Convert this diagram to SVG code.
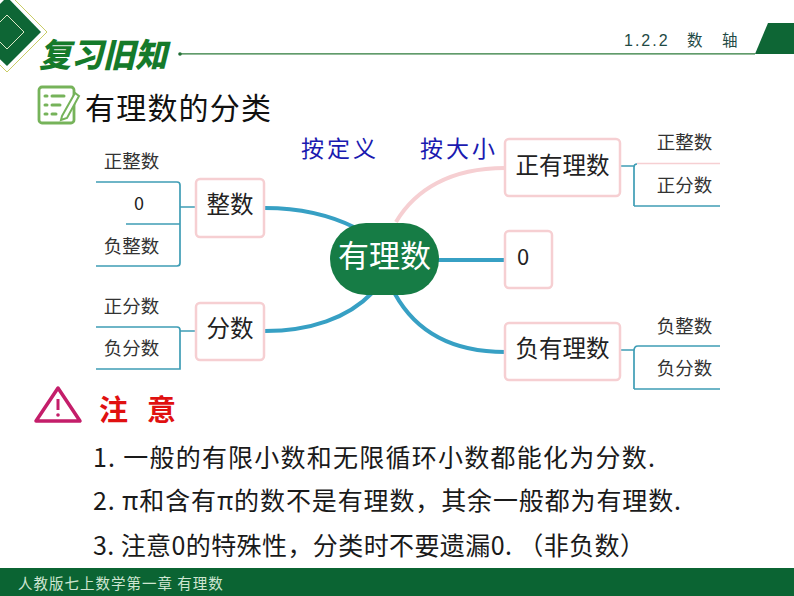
<svg xmlns="http://www.w3.org/2000/svg" width="794" height="596" viewBox="0 0 794 596">
<style>
text{font-family:"Noto Sans CJK SC","Liberation Sans",sans-serif;fill:#222}
.b{fill:#fff;stroke:#f6cfd2;stroke-width:2.5}
.th{fill:none;stroke:#37a0c4;stroke-width:4}
.tn{fill:none;stroke:#3f9db5;stroke-width:1.7}
.s{font-size:18.5px;text-anchor:middle;fill:#333}
.m{font-size:23.500px;text-anchor:middle}
.n{font-size:25px;fill:#1a1a1a}
.k{font-family:"Noto Sans CJK SC",serif;font-size:23px;fill:#1a1ab0;letter-spacing:3px}
</style>
<rect width="794" height="596" fill="#fff"/>
<g id="header">
<polygon points="47,32 7,-8 -33,32 7,72" fill="#fff" stroke="#c9cc66" stroke-width="1"/>
<polygon points="41,32 7,-3 -28,32 7,66" fill="#0e6635"/>
<polygon points="24,32 7,15 -10,32 7,49" fill="none" stroke="#dfe9c8" stroke-width="1"/>
<text x="39" y="67" font-size="33" font-weight="900" font-style="italic" textLength="128" lengthAdjust="spacingAndGlyphs" style="fill:#157a2a">复习旧知</text>
<circle cx="180" cy="54" r="1.800" fill="#1d6b34"/>
<line x1="180" y1="53.800" x2="755" y2="53.800" stroke="#2c7a3a" stroke-width="1.300"/>
<polygon points="755,54 768,23 794,23 794,54" fill="#0e6635"/>
<text x="624" y="46" font-size="16" style="fill:#1f4a45;letter-spacing:2px;font-family:'Liberation Sans',sans-serif">1.2.2</text>
<text x="687" y="46" font-size="15.500" style="fill:#1f4a45">数</text>
<text x="722" y="46" font-size="15.500" style="fill:#1f4a45">轴</text>
</g>
<g id="title">
<rect x="39" y="87" width="35" height="36" rx="3" fill="none" stroke="#76b35a" stroke-width="2.800"/>
<g stroke="#76b35a" stroke-width="3" stroke-linecap="round"><line x1="45" y1="96" x2="47" y2="96"/><line x1="52" y1="96" x2="64" y2="96"/><line x1="45" y1="105" x2="47" y2="105"/><line x1="52" y1="105" x2="60" y2="105"/><line x1="45" y1="114" x2="47" y2="114"/><line x1="52" y1="114" x2="56" y2="114"/></g>
<polygon points="62,116 75,93 79,96 67,118 61,120" fill="#fff" stroke="#76b35a" stroke-width="2"/>
<text x="85" y="119" font-size="30" style="fill:#111;letter-spacing:1.200px">有理数的分类</text>
</g>
<text x="301" y="157" class="k">按定义</text>
<text x="420" y="157" class="k">按大小</text>
<g id="connectors">
<path class="th" d="M265,208C300,208 330,215 356,228"/>
<path class="th" d="M265,331C310,331 348,318 372,293"/>
<path d="M396,222C415,190 450,168 505,168" fill="none" stroke="#f6cfd2" stroke-width="4"/>
<path class="th" d="M438,260H505"/>
<path class="th" d="M395,294C415,330 450,352 505,352"/>
<path class="tn" d="M96,182H177Q180,182 180,185V263Q180,266 177,266H96M126,224H180M180,207H196"/>
<path class="tn" d="M96,327H177Q180,327 180,330V369H96M180,331H196"/>
<path class="tn" d="M620,166H634M634,206V167Q634,164 637,164"/>
<path d="M637,163.500H720" stroke="#f6cfd2" stroke-width="1.700" fill="none"/>
<path class="tn" d="M634,206H720"/>
<path class="tn" d="M620,350H634M634,389V351Q634,346 638,346H720M634,389H720"/>
</g>
<g id="n-root"><rect x="330" y="223" width="109" height="72" rx="36" fill="#167c45"/><text x="384.500" y="267" font-size="31" text-anchor="middle" style="fill:#fff">有理数</text></g>
<g id="n-zhengshu"><rect x="196" y="179" width="68" height="58" rx="4" class="b"/><text x="230" y="213" class="m">整数</text></g>
<g id="n-fenshu"><rect x="196" y="303" width="68" height="57" rx="4" class="b"/><text x="230" y="337" class="m">分数</text></g>
<g id="n-zhengyou"><rect x="505" y="139" width="115" height="57" rx="4" class="b"/><text x="562.500" y="174" class="m">正有理数</text></g>
<g id="n-zero"><rect x="505" y="231" width="47" height="57" rx="4" class="b"/><text x="523" y="265" font-size="22" text-anchor="middle">0</text></g>
<g id="n-fuyou"><rect x="505" y="323" width="115" height="57" rx="4" class="b"/><text x="562.500" y="357" class="m">负有理数</text></g>
<g id="leaves">
<text x="131.500" y="168" class="s">正整数</text><text x="139" y="210" font-size="18" text-anchor="middle">0</text><text x="131.500" y="253" class="s">负整数</text>
<text x="131.500" y="313" class="s">正分数</text><text x="131.500" y="355" class="s">负分数</text>
<text x="684.500" y="149" class="s">正整数</text><text x="684.500" y="192" class="s">正分数</text>
<text x="684.500" y="333" class="s">负整数</text><text x="684.500" y="375" class="s">负分数</text>
</g>
<g id="notice">
<path d="M58,388L80,421H36Z" fill="none" stroke="#c41e6a" stroke-width="3.500" stroke-linejoin="round"/>
<line x1="58" y1="399" x2="58" y2="410" stroke="#c41e6a" stroke-width="3"/><circle cx="58" cy="415" r="1.800" fill="#c41e6a"/>
<text x="99" y="421" font-size="29" font-weight="700" style="fill:#e01010">注</text><text x="147" y="421" font-size="29" font-weight="700" style="fill:#e01010">意</text>
<text x="93" y="467" class="n" textLength="562">1. 一般的有限小数和无限循环小数都能化为分数.</text>
<text x="93" y="510" class="n" textLength="588">2. π和含有π的数不是有理数，其余一般都为有理数.</text>
<text x="93" y="555" class="n" textLength="552">3. 注意0的特殊性，分类时不要遗漏0. （非负数）</text>
</g>
<g id="footer"><rect y="568" width="794" height="28" fill="#0b6433"/><text x="18" y="589" font-size="14.500" style="fill:#cfe6d2;letter-spacing:1px">人教版七上数学第一章 有理数</text></g>
</svg>
